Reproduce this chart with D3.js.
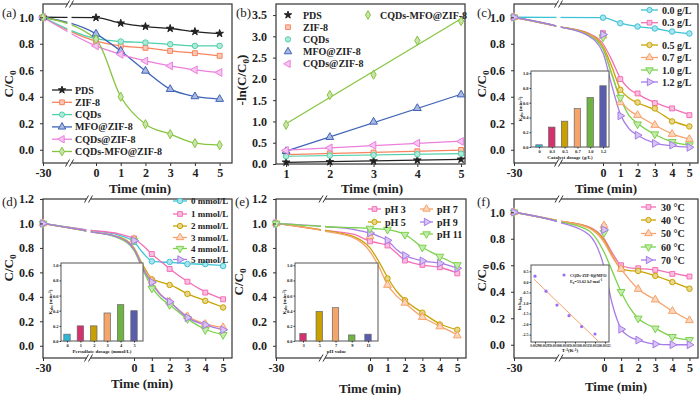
<!DOCTYPE html>
<html><head><meta charset="utf-8">
<script src="https://cdn.jsdelivr.net/npm/d3@7"></script>
<style>body{margin:0;background:#fff}svg{display:block}</style>
</head><body><script>
// ================= DATA =================
const timeMain = [-30, 0, 1, 2, 3, 4, 5];
const fitTime = [-30, -15, -5, 0, 0.5, 1, 1.5, 2, 3, 4, 5];
const xTickVals = [-30, 0, 1, 2, 3, 4, 5];
const ccTicks = [0.0, 0.2, 0.4, 0.6, 0.8, 1.0];
const ccTicksDE = [0.0, 0.2, 0.4, 0.6, 0.8, 1.0, 1.2];

// (a) C/C0 vs time
const aNames = ["PDS", "ZIF-8", "CQDs", "MFO@ZIF-8", "CQDs@ZIF-8", "CQDs-MFO@ZIF-8"];
const aPDS = [1.0, 0.997, 0.955, 0.93, 0.915, 0.892, 0.877];
const aZIF = [1.0, 0.82, 0.784, 0.769, 0.746, 0.729, 0.709];
const aCQD = [1.0, 0.839, 0.817, 0.809, 0.796, 0.784, 0.784];
const aMFO = [1.0, 0.875, 0.746, 0.595, 0.457, 0.402, 0.382];
const aCZ  = [1.0, 0.784, 0.72, 0.67, 0.633, 0.603, 0.583];
const aCMZ = [1.0, 0.834, 0.40, 0.193, 0.118, 0.05, 0.035];

// (b) -ln(C/C0) vs time
const bTime = [1, 2, 3, 4, 5];
const bTicksY = [0.0, 0.5, 1.0, 1.5, 2.0, 2.5, 3.0, 3.5];
const bPDS = [0.04, 0.05, 0.07, 0.09, 0.11];
const bZIF = [0.22, 0.25, 0.27, 0.30, 0.33];
const bCQD = [0.18, 0.20, 0.21, 0.23, 0.24];
const bMFO = [0.30, 0.63, 0.99, 1.31, 1.63];
const bCZ  = [0.32, 0.38, 0.44, 0.49, 0.53];
const bCMZ = [0.92, 1.62, 2.10, 2.90, 3.36];

// (c) catalyst dosage
const cNames = ["0.0 g/L", "0.3 g/L", "0.5 g/L", "0.7 g/L", "1.0 g/L", "1.2 g/L"];
const c00 = [1.0, 0.997, 0.955, 0.93, 0.915, 0.892, 0.877];
const c03 = [1.0, 0.88, 0.533, 0.425, 0.352, 0.312, 0.261];
const c05 = [1.0, 0.87, 0.452, 0.357, 0.312, 0.214, 0.176];
const c07 = [1.0, 0.86, 0.357, 0.261, 0.186, 0.118, 0.08];
const c10 = [1.0, 0.85, 0.394, 0.193, 0.118, 0.06, 0.035];
const c12 = [1.0, 0.87, 0.256, 0.11, 0.048, 0.035, 0.018];
const c03Fit = [1.0, 0.93, 0.88, 0.80, 0.68, 0.54, 0.46, 0.42, 0.355, 0.31, 0.265];
const c05Fit = [1.0, 0.93, 0.875, 0.78, 0.63, 0.46, 0.39, 0.355, 0.30, 0.22, 0.175];
const c07Fit = [1.0, 0.93, 0.87, 0.765, 0.58, 0.38, 0.30, 0.26, 0.185, 0.12, 0.08];
const c10Fit = [1.0, 0.93, 0.865, 0.76, 0.57, 0.39, 0.26, 0.20, 0.115, 0.06, 0.035];
const c12Fit = [1.0, 0.93, 0.86, 0.73, 0.49, 0.27, 0.16, 0.11, 0.05, 0.03, 0.02];
const cDose = ["0", "0.3", "0.5", "0.7", "1.0", "1.2"];
const cK = [0.03, 0.27, 0.35, 0.52, 0.67, 0.83];

// (d) persulfate dosage
const dNames = ["0 mmol/L", "1 mmol/L", "2 mmol/L", "3 mmol/L", "4 mmol/L", "5 mmol/L"];
const d0 = [1.0, 0.85, 0.69, 0.685, 0.668, 0.668, 0.652];
const d1 = [1.0, 0.878, 0.75, 0.628, 0.524, 0.435, 0.38];
const d2 = [1.0, 0.87, 0.543, 0.497, 0.424, 0.367, 0.313];
const d3v = [1.0, 0.87, 0.53, 0.36, 0.24, 0.177, 0.15];
const d4 = [1.0, 0.86, 0.47, 0.334, 0.22, 0.13, 0.09];
const d5 = [1.0, 0.86, 0.52, 0.36, 0.23, 0.171, 0.13];
const d0Fit = [1.0, 0.945, 0.905, 0.85, 0.76, 0.695, 0.685, 0.682, 0.672, 0.665, 0.655];
const d1Fit = [1.0, 0.945, 0.915, 0.875, 0.82, 0.75, 0.69, 0.63, 0.525, 0.44, 0.38];
const d2Fit = [1.0, 0.935, 0.89, 0.80, 0.66, 0.55, 0.52, 0.50, 0.425, 0.37, 0.315];
const d3Fit = [1.0, 0.935, 0.885, 0.79, 0.64, 0.52, 0.42, 0.36, 0.24, 0.18, 0.15];
const d4Fit = [1.0, 0.935, 0.88, 0.78, 0.62, 0.48, 0.39, 0.335, 0.22, 0.135, 0.09];
const d5Fit = [1.0, 0.935, 0.885, 0.79, 0.635, 0.51, 0.415, 0.36, 0.23, 0.17, 0.13];
const dDose = ["0", "1", "2", "3", "4", "5"];
const dK = [0.09, 0.20, 0.20, 0.37, 0.48, 0.40];

// (e) pH
const eNames = ["pH 3", "pH 5", "pH 7", "pH 9", "pH 11"];
const e3 = [1.0, 0.854, 0.82, 0.697, 0.661, 0.642, 0.592];
const e5 = [1.0, 0.909, 0.55, 0.372, 0.27, 0.174, 0.13];
const e7 = [1.0, 0.895, 0.496, 0.35, 0.234, 0.157, 0.083];
const e9 = [1.0, 0.923, 0.862, 0.738, 0.694, 0.675, 0.634];
const e11 = [1.0, 0.959, 0.95, 0.909, 0.804, 0.73, 0.661];
const e3Fit = [1.0, 0.945, 0.91, 0.855, 0.84, 0.82, 0.76, 0.70, 0.66, 0.64, 0.595];
const e5Fit = [1.0, 0.945, 0.89, 0.80, 0.69, 0.56, 0.45, 0.375, 0.27, 0.18, 0.13];
const e7Fit = [1.0, 0.94, 0.88, 0.77, 0.65, 0.50, 0.41, 0.35, 0.235, 0.16, 0.09];
const e9Fit = [1.0, 0.975, 0.95, 0.92, 0.895, 0.86, 0.79, 0.74, 0.695, 0.675, 0.635];
const e11Fit = [1.0, 0.975, 0.965, 0.96, 0.955, 0.95, 0.935, 0.91, 0.805, 0.73, 0.66];
const ePH = ["3", "5", "7", "9", "11"];
const eK = [0.10, 0.39, 0.44, 0.08, 0.09];

// (f) temperature
const fNames = ["30 °C", "40 °C", "50 °C", "60 °C", "70 °C"];
const f30 = [1.0, 0.888, 0.60, 0.577, 0.565, 0.535, 0.515];
const f40 = [1.0, 0.876, 0.572, 0.557, 0.52, 0.473, 0.423];
const f50 = [1.0, 0.90, 0.572, 0.42, 0.34, 0.254, 0.184];
const f60 = [1.0, 0.846, 0.40, 0.199, 0.124, 0.06, 0.037];
const f70 = [1.0, 0.868, 0.117, 0.035, 0.005, 0.0, 0.0];
const f30Fit = [1.0, 0.935, 0.89, 0.80, 0.69, 0.60, 0.58, 0.575, 0.565, 0.54, 0.515];
const f40Fit = [1.0, 0.935, 0.885, 0.79, 0.67, 0.575, 0.56, 0.555, 0.52, 0.475, 0.425];
const f50Fit = [1.0, 0.935, 0.88, 0.775, 0.66, 0.57, 0.49, 0.42, 0.34, 0.255, 0.185];
const f60Fit = [1.0, 0.93, 0.86, 0.70, 0.55, 0.40, 0.28, 0.20, 0.125, 0.06, 0.037];
const f70Fit = [1.0, 0.925, 0.83, 0.59, 0.30, 0.12, 0.06, 0.035, 0.005, 0.0, 0.0];
const fInvT = [0.00290, 0.002955, 0.00301, 0.00307, 0.003133, 0.00320];
const fLnK = [0.27, -0.44, -1.10, -1.60, -2.12, -2.47];
const fInvTTicks = [0.00290, 0.00295, 0.00300, 0.00305, 0.00310, 0.00315, 0.00320, 0.00325];
const fLnKTicks = [-2.5, -2.0, -1.5, -1.0, -0.5, 0.0, 0.5];

// ================= STYLE =================
const FONT = '"Liberation Serif","Times New Roman",serif';
const AX = '#333';
const COL = {
  black: '#222222', salmon: '#f7845e', teal: '#4fd0ab', blue: '#3f63b8', orchid: '#eb7fdd', lime: '#86c440',
  cyan: '#3ec3d6', pink: '#f46fb6', gold: '#c9a300', orange: '#f6a26a', green: '#7bd24c', purple: '#a77be8'
};
const BAR = ['#2fb6d6', '#d6306f', '#c8a000', '#f6a56a', '#6fb443', '#5a5cae'];

const svg = d3.select('body').append('svg').attr('width', 700).attr('height', 395)
  .attr('font-family', FONT);
svg.append('rect').attr('width', 700).attr('height', 395).attr('fill', '#fff');

function tint(c, t) { return d3.interpolateRgb(c, '#ffffff')(t); }
const SYM = { star: d3.symbolStar, square: d3.symbolSquare, circle: d3.symbolCircle, tri: d3.symbolTriangle, diamond: d3.symbolDiamond };
function marker(g, px, py, s, size) {
  const sz = (size || 24) * (s.sym === 'star' ? 0.75 : s.sym === 'tri' ? 1.1 : 1);
  g.append('path').attr('d', d3.symbol().type(SYM[s.sym]).size(sz)())
    .attr('transform', `translate(${px},${py}) rotate(${s.rot || 0})`)
    .attr('fill', s.sym === 'star' ? s.color : tint(s.color, 0.55))
    .attr('stroke', s.color).attr('stroke-width', 1);
}
function frame(g, L, R, T, B) {
  g.append('rect').attr('x', L).attr('y', T).attr('width', R - L).attr('height', B - T)
    .attr('fill', 'none').attr('stroke', AX).attr('stroke-width', 1.2);
}
function styleAxis(a, fs) {
  a.select('.domain').remove();
  a.attr('font-family', FONT).attr('font-size', fs).attr('font-weight', 'bold');
  a.selectAll('line').attr('stroke', AX);
  a.selectAll('text').attr('fill', '#222');
}
function axes(g, x, y, L, B, xt, yt, yfmt, fs) {
  const gx = g.append('g').attr('transform', `translate(0,${B})`)
    .call(d3.axisBottom(x).tickValues(xt).tickSize(3).tickPadding(2).tickFormat(d => String(d)));
  styleAxis(gx, fs);
  const gy = g.append('g').attr('transform', `translate(${L},0)`)
    .call(d3.axisLeft(y).tickValues(yt).tickSize(3).tickPadding(6).tickFormat(yfmt));
  styleAxis(gy, fs);
}
function brk(g, bx, T, B) {
  g.append('rect').attr('x', bx - 2).attr('y', T - 4).attr('width', 4).attr('height', B - T + 8).attr('fill', '#fff');
  [T, B].forEach(yy => [-2, 2].forEach(o => {
    g.append('line').attr('x1', bx + o - 2).attr('y1', yy + 3.5).attr('x2', bx + o + 2).attr('y2', yy - 3.5)
      .attr('stroke', AX).attr('stroke-width', 1);
  }));
}
function ytitle(g, x, y, pre, sub, post, fs) {
  const t = g.append('text').attr('transform', `translate(${x},${y}) rotate(-90)`)
    .attr('text-anchor', 'middle').attr('font-size', fs).attr('font-weight', 'bold').attr('fill', '#222');
  t.append('tspan').text(pre);
  t.append('tspan').attr('font-size', fs * 0.7).attr('dy', fs * 0.25).text(sub);
  if (post) t.append('tspan').attr('dy', -fs * 0.25).text(post);
}
function text(g, x, y, s, fs, anchor, weight) {
  return g.append('text').attr('x', x).attr('y', y).attr('font-size', fs).attr('text-anchor', anchor || 'start')
    .attr('font-weight', weight || 'bold').attr('fill', '#222').text(s);
}
function lineLegend(g, items, x1, x2, tx, ys, fs) {
  items.forEach((s, i) => {
    g.append('line').attr('x1', x1).attr('x2', x2).attr('y1', ys[i]).attr('y2', ys[i]).attr('stroke', s.color).attr('stroke-width', 1.3);
    marker(g, (x1 + x2) / 2, ys[i], s, 22);
    text(g, tx, ys[i] + fs * 0.35, s.name, fs);
  });
}

// ================= C/C0 PANEL =================
function cPanel(cfg) {
  const g = svg.append('g');
  const x = d3.scaleLinear().domain([-30, 0, 5.5]).range([cfg.L, cfg.x0, cfg.R]);
  const y = d3.scaleLinear().domain(cfg.yDom).range([cfg.B, cfg.T]);
  const line = d3.line().x(d => x(d[0])).y(d => y(d[1])).curve(d3.curveMonotoneX);
  frame(g, cfg.L, cfg.R, cfg.T, cfg.B);
  cfg.series.forEach(s => {
    const pts = s.fit ? fitTime.map((t, i) => [t, s.fit[i]]) : timeMain.map((t, i) => [t, s.vals[i]]);
    g.append('path').attr('d', line(pts)).attr('fill', 'none').attr('stroke', s.color).attr('stroke-width', 1.3);
  });
  cfg.series.forEach(s => timeMain.forEach((t, i) => marker(g, x(t), y(s.vals[i]), s)));
  brk(g, x(-15), cfg.T, cfg.B);
  axes(g, x, y, cfg.L, cfg.B, xTickVals, cfg.yTicks, d3.format('.1f'), 12);
  ytitle(g, cfg.yt[0], cfg.yt[1], 'C/C', '0', null, 13);
  text(g, cfg.xt[0], cfg.xt[1], 'Time (min)', 13, 'middle');
  text(g, cfg.lab[0], cfg.lab[1], cfg.label, 13, 'start', 'normal');
  return { g, x, y };
}

// ================= INSETS =================
function barInset(cfg) {
  const g = svg.append('g');
  g.append('rect').attr('x', cfg.L).attr('y', cfg.T).attr('width', cfg.R - cfg.L).attr('height', cfg.B - cfg.T)
    .attr('fill', '#fff').attr('stroke', '#555').attr('stroke-width', 1);
  const x = d3.scalePoint().domain(cfg.cats).range(cfg.cx);
  const y = d3.scaleLinear().domain([0, 1.03]).range([cfg.B, cfg.T]);
  cfg.vals.forEach((v, i) => {
    g.append('rect').attr('x', x(cfg.cats[i]) - 3.2).attr('width', 6.4).attr('y', y(v)).attr('height', y(0) - y(v))
      .attr('fill', cfg.colors[i]).attr('stroke', '#666').attr('stroke-width', 0.7);
  });
  const gx = g.append('g').attr('transform', `translate(0,${cfg.B})`).call(d3.axisBottom(x).tickSize(1.5).tickPadding(1));
  styleAxis(gx, 4.5);
  const gy = g.append('g').attr('transform', `translate(${cfg.L},0)`)
    .call(d3.axisLeft(y).tickValues([0, 0.2, 0.4, 0.6, 0.8, 1.0]).tickSize(1.5).tickPadding(1).tickFormat(d3.format('.1f')));
  styleAxis(gy, 4.5);
  text(g, (cfg.L + cfg.R) / 2, cfg.B + 12, cfg.xlabel, 5, 'middle');
  const t = g.append('text').attr('transform', `translate(${cfg.L - 9},${(cfg.T + cfg.B) / 2}) rotate(-90)`)
    .attr('text-anchor', 'middle').attr('font-size', 5).attr('font-weight', 'bold').attr('fill', '#222');
  t.append('tspan').text('K');
  t.append('tspan').attr('font-size', 3.5).attr('dy', 1).text('obs');
  t.append('tspan').attr('dy', -1).text(' (min');
  t.append('tspan').attr('font-size', 3.5).attr('dy', -1.5).text('-1');
  t.append('tspan').attr('dy', 1.5).text(')');
}

// ================= PANEL (a) =================
const aSeries = [
  { name: aNames[0], vals: aPDS, color: COL.black, sym: 'star' },
  { name: aNames[1], vals: aZIF, color: COL.salmon, sym: 'square' },
  { name: aNames[2], vals: aCQD, color: COL.teal, sym: 'circle' },
  { name: aNames[3], vals: aMFO, color: COL.blue, sym: 'tri' },
  { name: aNames[4], vals: aCZ, color: COL.orchid, sym: 'tri', rot: -90 },
  { name: aNames[5], vals: aCMZ, color: COL.lime, sym: 'diamond' }
];
const pa = cPanel({ L: 43, x0: 96, R: 232, T: 4, B: 163, yDom: [-0.1, 1.1], yTicks: ccTicks, series: aSeries,
  yt: [13, 84], xt: [140, 193], lab: [2, 17], label: '(a)' });
lineLegend(pa.g, aSeries, 52, 72, 75, d3.range(6).map(i => 90 + 12.3 * i), 10);

// ================= PANEL (b) =================
(function () {
  const L = 276, R = 465, T = 4, B = 164;
  const g = svg.append('g');
  const x = d3.scaleLinear().domain([0.77, 5.09]).range([L, R]);
  const y = d3.scaleLinear().domain([0, 3.76]).range([B, T]);
  frame(g, L, R, T, B);
  const bSeries = [
    { name: aNames[0], vals: bPDS, color: COL.black, sym: 'star' },
    { name: aNames[1], vals: bZIF, color: COL.salmon, sym: 'square' },
    { name: aNames[2], vals: bCQD, color: COL.teal, sym: 'circle' },
    { name: aNames[3], vals: bMFO, color: COL.blue, sym: 'tri' },
    { name: aNames[4], vals: bCZ, color: COL.orchid, sym: 'tri', rot: -90 },
    { name: aNames[5], vals: bCMZ, color: COL.lime, sym: 'diamond' }
  ];
  bSeries.forEach(s => {
    const mx = d3.mean(bTime), my = d3.mean(s.vals);
    const slope = d3.sum(bTime, (t, i) => (t - mx) * (s.vals[i] - my)) / d3.sum(bTime, t => (t - mx) * (t - mx));
    const f = t => my + slope * (t - mx);
    g.append('line').attr('x1', x(1)).attr('x2', x(5)).attr('y1', y(f(1))).attr('y2', y(f(5)))
      .attr('stroke', s.color).attr('stroke-width', 1.2);
  });
  bSeries.forEach(s => bTime.forEach((t, i) => marker(g, x(t), y(s.vals[i]), s)));
  axes(g, x, y, L, B, bTime, bTicksY, d3.format('.1f'), 12);
  ytitle(g, 246, 80, '-ln(C/C', '0', ')', 13);
  text(g, 372, 193, 'Time (min)', 13, 'middle');
  text(g, 236, 17, '(b)', 13, 'start', 'normal');
  bSeries.slice(0, 5).forEach((s, i) => {
    marker(g, 288, 15 + 12.2 * i, s, 22);
    text(g, 303, 15 + 12.2 * i + 3.5, s.name, 10);
  });
  marker(g, 368, 15, bSeries[5], 22);
  text(g, 380, 18.5, bSeries[5].name, 10);
})();

// ================= PANEL (c) =================
const cSeries = [
  { name: cNames[0], vals: c00, color: COL.cyan, sym: 'circle' },
  { name: cNames[1], vals: c03, fit: c03Fit, color: COL.pink, sym: 'square' },
  { name: cNames[2], vals: c05, fit: c05Fit, color: COL.gold, sym: 'circle' },
  { name: cNames[3], vals: c07, fit: c07Fit, color: COL.orange, sym: 'tri' },
  { name: cNames[4], vals: c10, fit: c10Fit, color: COL.green, sym: 'tri', rot: 180 },
  { name: cNames[5], vals: c12, fit: c12Fit, color: COL.purple, sym: 'tri', rot: 90 }
];
const pc = cPanel({ L: 514, x0: 603, R: 698, T: 4, B: 163, yDom: [-0.1, 1.1], yTicks: ccTicks, series: cSeries,
  yt: [486, 84], xt: [606, 193], lab: [477, 17], label: '(c)' });
lineLegend(pc.g, cSeries, 641, 658, 662, [10, 22.7, 45, 57.5, 70, 82], 10);
barInset({ L: 531, R: 609, T: 71, B: 147, cats: cDose, vals: cK, colors: BAR, cx: [539, 603], xlabel: 'Catalyst dosage (g/L)' });

// ================= PANEL (d) =================
const dSeries = [
  { name: dNames[0], vals: d0, fit: d0Fit, color: COL.cyan, sym: 'circle' },
  { name: dNames[1], vals: d1, fit: d1Fit, color: COL.pink, sym: 'square' },
  { name: dNames[2], vals: d2, fit: d2Fit, color: COL.gold, sym: 'circle' },
  { name: dNames[3], vals: d3v, fit: d3Fit, color: COL.orange, sym: 'tri' },
  { name: dNames[4], vals: d4, fit: d4Fit, color: COL.green, sym: 'tri', rot: 180 },
  { name: dNames[5], vals: d5, fit: d5Fit, color: COL.purple, sym: 'tri', rot: 90 }
];
const pd = cPanel({ L: 43, x0: 134, R: 232, T: 199, B: 358, yDom: [-0.1, 1.2], yTicks: ccTicksDE, series: dSeries,
  yt: [13, 268], xt: [142, 388], lab: [2, 206], label: '(d)' });
lineLegend(pd.g, dSeries, 173, 187, 191, [201, 214, 226, 237.5, 248.5, 259.5], 9);
barInset({ L: 61, R: 143, T: 263, B: 341, cats: dDose, vals: dK, colors: BAR, cx: [67, 134], xlabel: 'Persulfate dosage (mmol/L)' });

// ================= PANEL (e) =================
const eSeries = [
  { name: eNames[0], vals: e3, fit: e3Fit, color: COL.pink, sym: 'square' },
  { name: eNames[1], vals: e5, fit: e5Fit, color: COL.gold, sym: 'circle' },
  { name: eNames[2], vals: e7, fit: e7Fit, color: COL.orange, sym: 'tri' },
  { name: eNames[3], vals: e9, fit: e9Fit, color: COL.purple, sym: 'tri', rot: 90 },
  { name: eNames[4], vals: e11, fit: e11Fit, color: COL.green, sym: 'tri', rot: 180 }
];
const pe = cPanel({ L: 276, x0: 370, R: 466, T: 199, B: 358, yDom: [-0.1, 1.2], yTicks: ccTicksDE, series: eSeries,
  yt: [243, 282], xt: [370, 393], lab: [235, 206], label: '(e)' });
lineLegend(pe.g, [eSeries[0], eSeries[1]], 368, 381, 385, [209, 222], 10);
lineLegend(pe.g, [eSeries[2], eSeries[3], eSeries[4]], 420, 433, 437, [209, 222, 234], 10);
barInset({ L: 295, R: 378, T: 263, B: 341, cats: ePH, vals: eK, colors: [BAR[1], BAR[2], BAR[3], BAR[4], BAR[5]], cx: [303, 368], xlabel: 'pH value' });

// ================= PANEL (f) =================
const fSeries = [
  { name: fNames[0], vals: f30, fit: f30Fit, color: COL.pink, sym: 'square' },
  { name: fNames[1], vals: f40, fit: f40Fit, color: COL.gold, sym: 'circle' },
  { name: fNames[2], vals: f50, fit: f50Fit, color: COL.orange, sym: 'tri' },
  { name: fNames[3], vals: f60, fit: f60Fit, color: COL.green, sym: 'tri', rot: 180 },
  { name: fNames[4], vals: f70, fit: f70Fit, color: COL.purple, sym: 'tri', rot: 90 }
];
const pf = cPanel({ L: 514, x0: 604, R: 698, T: 199, B: 358, yDom: [-0.1, 1.1], yTicks: ccTicks, series: fSeries,
  yt: [486, 278], xt: [616, 391], lab: [477, 206], label: '(f)' });
lineLegend(pf.g, fSeries, 641, 656, 661, [207, 220, 233.5, 247, 260], 10);

(function () {
  const L = 531, R = 609, T = 265, B = 342;
  const g = svg.append('g');
  g.append('rect').attr('x', L).attr('y', T).attr('width', R - L).attr('height', B - T)
    .attr('fill', '#fff').attr('stroke', '#555').attr('stroke-width', 1);
  const x = d3.scaleLinear().domain([0.00288, 0.00327]).range([L, R]);
  const y = d3.scaleLinear().domain([-2.85, 0.8]).range([B, T]);
  const mx = d3.mean(fInvT), my = d3.mean(fLnK);
  const slope = d3.sum(fInvT, (t, i) => (t - mx) * (fLnK[i] - my)) / d3.sum(fInvT, t => (t - mx) * (t - mx));
  const f = t => my + slope * (t - mx);
  const x1 = 0.002895, x2 = 0.00322;
  g.append('line').attr('x1', x(x1)).attr('x2', x(x2)).attr('y1', y(f(x1))).attr('y2', y(f(x2)))
    .attr('stroke', COL.orange).attr('stroke-width', 1);
  fInvT.forEach((t, i) => g.append('circle').attr('cx', x(t)).attr('cy', y(fLnK[i])).attr('r', 1.6).attr('fill', '#9d6ff0'));
  const gx = g.append('g').attr('transform', `translate(0,${B})`)
    .call(d3.axisBottom(x).tickValues(fInvTTicks).tickSize(1.5).tickPadding(1).tickFormat(d => d.toFixed(5)));
  styleAxis(gx, 3.2);
  const gy = g.append('g').attr('transform', `translate(${L},0)`)
    .call(d3.axisLeft(y).tickValues(fLnKTicks).tickSize(1.5).tickPadding(1).tickFormat(d => d.toFixed(1)));
  styleAxis(gy, 4);
  const tt = g.append('text').attr('x', (L + R) / 2).attr('y', B + 10).attr('text-anchor', 'middle')
    .attr('font-size', 5).attr('font-weight', 'bold').attr('fill', '#222');
  tt.append('tspan').text('T');
  tt.append('tspan').attr('font-size', 3.5).attr('dy', -1.5).text('-1');
  tt.append('tspan').attr('dy', 1.5).text('(K');
  tt.append('tspan').attr('font-size', 3.5).attr('dy', -1.5).text('-1');
  tt.append('tspan').attr('dy', 1.5).text(')');
  const ty = g.append('text').attr('transform', `translate(${L - 10},${(T + B) / 2}) rotate(-90)`)
    .attr('text-anchor', 'middle').attr('font-size', 5).attr('font-weight', 'bold').attr('fill', '#222');
  ty.append('tspan').text('ln k');
  ty.append('tspan').attr('font-size', 3.5).attr('dy', 1).text('obs');
  g.append('circle').attr('cx', 564).attr('cy', 275).attr('r', 1.6).attr('fill', '#9d6ff0');
  text(g, 570, 276.5, 'CQDs-ZIF-8@MFO', 4.2);
  const te = g.append('text').attr('x', 570).attr('y', 282.5).attr('font-size', 4.2).attr('font-weight', 'bold').attr('fill', '#222');
  te.append('tspan').text('E');
  te.append('tspan').attr('font-size', 3).attr('dy', 1).text('a');
  te.append('tspan').attr('dy', -1).text('=53.62 kJ·mol');
  te.append('tspan').attr('font-size', 3).attr('dy', -1.5).text('-1');
})();
</script></body></html>
